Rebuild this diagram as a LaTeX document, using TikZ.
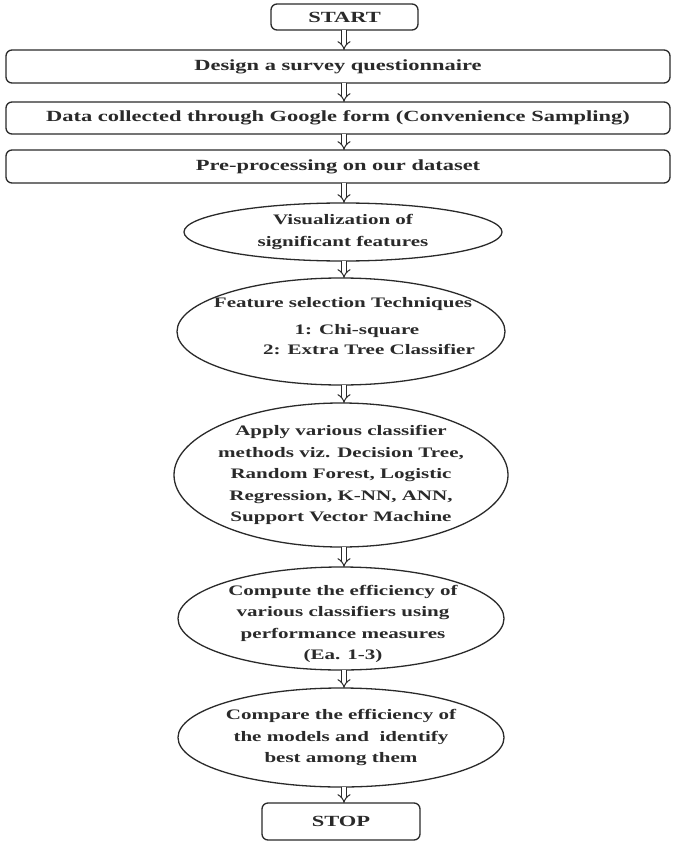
\documentclass[tikz,border=0pt]{standalone}
\usepackage{fontspec}
\setmainfont{Liberation Serif}[FakeStretch=1.45]
\usetikzlibrary{arrows.meta,shapes.geometric}
\definecolor{ink}{HTML}{2A2A2A}
\begin{document}
\begin{tikzpicture}[x=1pt,y=-1pt,
  every node/.style={inner sep=0pt, outer sep=0pt},
  box/.style={draw=ink, line width=1.3pt, rounded corners=6pt},
  oval/.style={draw=ink, line width=1.3pt, ellipse},
  txt/.style={text=ink, align=center, font=\fontsize{15.5}{21.5}\selectfont\bfseries},
  otxt/.style={text=ink, align=center, font=\fontsize{14.5}{21.5}\selectfont\bfseries},
  flow/.style={draw=ink, line width=1pt, double=white, double distance=3.6pt,
    -{Implies[length=5pt]}}
]
\useasboundingbox[fill=white] (0,0) rectangle (673,842);
\coordinate (axis) at (344,0);

% rectangular steps
\node[box, minimum width=147pt, minimum height=26pt] (start) at (344.5,17) {};
\node[txt] at (start) {START};
\node[box, minimum width=664pt, minimum height=33pt] (design) at (338,66.5) {};
\node[txt] at (design) {Design a survey questionnaire};
\node[box, minimum width=664pt, minimum height=32pt] (data) at (338,118) {};
\node[txt] at (data) {Data collected through Google form (Convenience Sampling)};
\node[box, minimum width=664pt, minimum height=33pt] (prep) at (338,166.5) {};
\node[txt] at (prep) {Pre-processing on our dataset};

% oval steps
\node[oval, minimum width=318pt, minimum height=58pt] (vis) at (343,232) {};
\node[otxt] at (vis) {Visualization of\\significant features};

\node[oval, minimum width=328pt, minimum height=107pt] (feat) at (341,331.5) {};
\node[otxt] (featA) at (343,304) {Feature selection Techniques};
\node[otxt] (featB) at (357,331) {1: Chi-square};
\node[otxt] (featC) at (369,349) {2: Extra Tree Classifier};

\node[oval, minimum width=334pt, minimum height=144pt] (apply) at (341,475) {};
\node[otxt] at (apply) {Apply various classifier\\methods viz. Decision Tree,\\Random Forest, Logistic\\Regression, K-NN, ANN,\\Support Vector Machine};

\node[oval, minimum width=326pt, minimum height=103pt] (comp) at (341,618.5) {};
\node[otxt] at (343,624) {Compute the efficiency of\\various classifiers using\\performance measures\\(Ea. 1-3)};

\node[oval, minimum width=326pt, minimum height=99pt] (cmp) at (341,737.5) {};
\node[otxt] at (cmp) {Compare the efficiency of\\the models and\ \ identify\\best among them};

\node[box, minimum width=158pt, minimum height=37pt] (stop) at (341,821.5) {};
\node[txt] at (stop) {STOP};

% hollow down arrows
\draw[flow] (start.south -| axis) -- (design.north -| axis);
\draw[flow] (design.south -| axis) -- (data.north -| axis);
\draw[flow] (data.south -| axis) -- (prep.north -| axis);
\draw[flow] (prep.south -| axis) -- (vis.north -| axis);
\draw[flow] (vis.south -| axis) -- (feat.north -| axis);
\draw[flow] (feat.south -| axis) -- (apply.north -| axis);
\draw[flow] (apply.south -| axis) -- (comp.north -| axis);
\draw[flow] (comp.south -| axis) -- (cmp.north -| axis);
\draw[flow] (cmp.south -| axis) -- (stop.north -| axis);
\end{tikzpicture}
\end{document}
